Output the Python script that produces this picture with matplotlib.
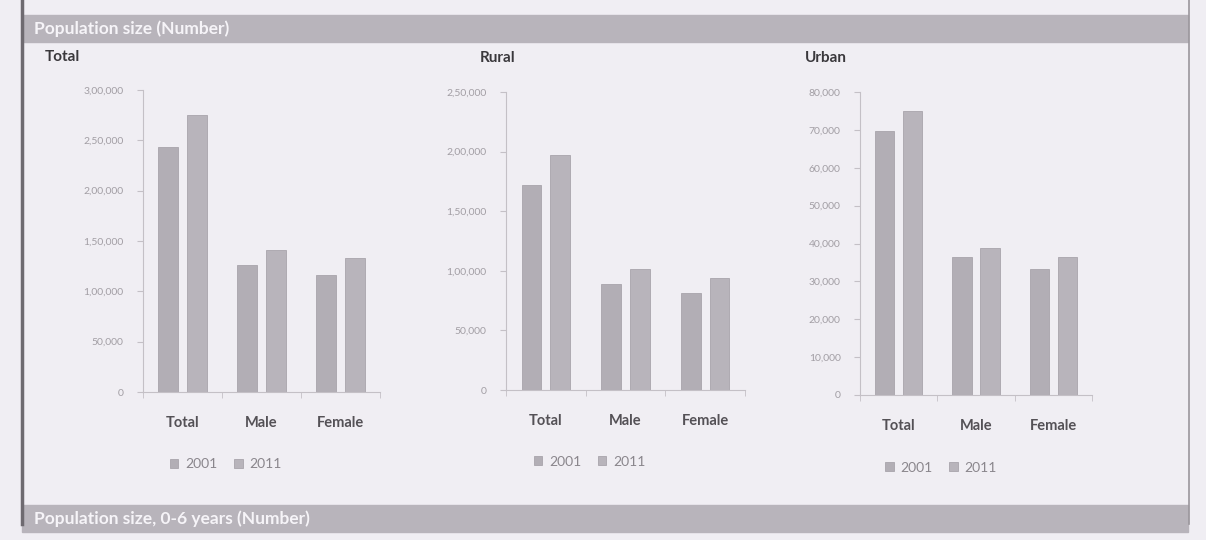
import matplotlib.pyplot as plt
from matplotlib.patches import Rectangle
from matplotlib.lines import Line2D
import numpy as np

plt.rcParams['font.family'] = ['Lato', 'DejaVu Sans']

categories = ['Total', 'Male', 'Female']
years = ['2001', '2011']

total_2001 = [243000, 126000, 116000]
total_2011 = [275000, 141000, 133000]
rural_2001 = [171700, 89000, 81700]
rural_2011 = [197500, 101700, 94000]
urban_2001 = [69700, 36400, 33200]
urban_2011 = [75000, 38800, 36400]

total_ticks = [0, 50000, 100000, 150000, 200000, 250000, 300000]
total_ticklabels = ['0', '50,000', '1,00,000', '1,50,000', '2,00,000', '2,50,000', '3,00,000']
rural_ticks = [0, 50000, 100000, 150000, 200000, 250000]
rural_ticklabels = ['0', '50,000', '1,00,000', '1,50,000', '2,00,000', '2,50,000']
urban_ticks = [0, 10000, 20000, 30000, 40000, 50000, 60000, 70000, 80000]
urban_ticklabels = ['0', '10,000', '20,000', '30,000', '40,000', '50,000',
                    '60,000', '70,000', '80,000']

W, H = 1206, 540
bg = '#f0eef3'
fig = plt.figure(figsize=(W / 100, H / 100), dpi=100, facecolor=bg)


def px(left, top, right, bottom):
    return [left / W, 1 - bottom / H, (right - left) / W, (bottom - top) / H]


# header / footer bands and page border
for top, label in [(15, 'Population size (Number)'),
                   (505, 'Population size, 0-6 years (Number)')]:
    fig.patches.append(Rectangle((22 / W, 1 - (top + 27) / H), 1166 / W, 27 / H,
                                 transform=fig.transFigure, color='#b8b4bb',
                                 zorder=0))
    fig.text(34 / W, 1 - (top + 13.5) / H, label, color='#f6f4f8',
             fontsize=12.5, fontweight='bold', va='center', ha='left')
fig.add_artist(Line2D([22 / W, 22 / W], [0.03, 1.0], color='#6e6a70', lw=2.5))
fig.add_artist(Line2D([1189 / W, 1189 / W], [0.03, 1.0], color='#9a969c', lw=1.2))


def panel(rect, title, title_xy, v01, v11, ticks, ticklabels):
    ax = fig.add_axes(px(*rect))
    ax.set_facecolor('none')
    x = np.arange(len(categories))
    ax.bar(x - 0.18, v01, 0.25, color='#b2aeb5', edgecolor='#a8a4ab', lw=0.6,
           label=years[0])
    ax.bar(x + 0.18, v11, 0.25, color='#b8b4bb', edgecolor='#a8a4ab', lw=0.6,
           label=years[1])
    ax.set_xlim(-0.5, len(categories) - 0.5)
    ax.set_ylim(ticks[0], ticks[-1])
    ax.set_yticks(ticks)
    ax.set_yticklabels(ticklabels)
    ax.set_xticks(x)
    ax.set_xticklabels(categories)
    ax.set_xticks([-0.5, 0.5, 1.5, 2.5], minor=True)
    for s in ['top', 'right']:
        ax.spines[s].set_visible(False)
    for s in ['left', 'bottom']:
        ax.spines[s].set_color('#c4c0c6')
    ax.tick_params(axis='x', which='major', length=0, pad=17, labelsize=10.5,
                   labelcolor='#545156')
    for t in ax.get_xticklabels():
        t.set_fontweight('bold')
    ax.tick_params(axis='x', which='minor', length=4, color='#c4c0c6')
    ax.tick_params(axis='y', length=4, color='#c4c0c6', labelsize=7.5,
                   labelcolor='#a29ea4', pad=10)
    handles, labels = ax.get_legend_handles_labels()
    ax.legend(handles, labels, loc='center', bbox_to_anchor=(0.35, -0.24),
              ncol=2, frameon=False, handlelength=0.6, handleheight=0.6,
              handletextpad=0.5, columnspacing=1.2, labelcolor='#8a868c',
              prop={'size': 10})
    fig.text(title_xy[0] / W, 1 - title_xy[1] / H, title, fontsize=11,
             fontweight='bold', color='#3a383c', va='center', ha='left')
    return ax


panel((143, 90, 380, 392), 'Total', (45, 57), total_2001, total_2011,
      total_ticks, total_ticklabels)
panel((506, 92, 745, 390), 'Rural', (480, 58), rural_2001, rural_2011,
      rural_ticks, rural_ticklabels)
panel((860, 92, 1092, 395), 'Urban', (805, 58), urban_2001, urban_2011,
      urban_ticks, urban_ticklabels)

fig.savefig('out.png', dpi=100, facecolor=bg)
